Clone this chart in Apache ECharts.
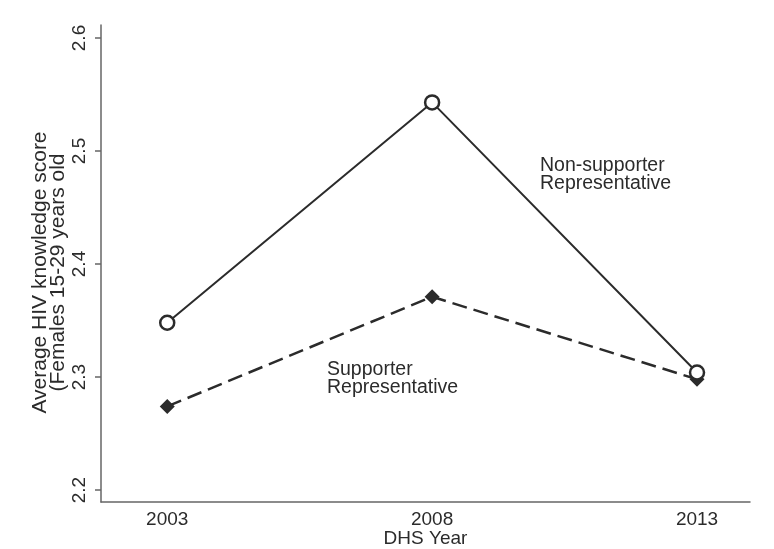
<!DOCTYPE html>
<html>
<head>
<meta charset="utf-8">
<script src="https://cdn.jsdelivr.net/npm/echarts@6/dist/echarts.min.js"></script>
<style>
  html, body { margin: 0; padding: 0; background: #fff; }
  #chart { width: 774px; height: 549px; }
</style>
</head>
<body>
<div id="chart"></div>
<script>
// DHS survey years and average HIV knowledge scores
const years = [2003, 2008, 2013]
const nonSupporter = [2.348, 2.543, 2.304]
const supporter = [2.274, 2.371, 2.298]
const yTicks = [2.2, 2.3, 2.4, 2.5, 2.6]

const textColor = '#2b2b2b'
const fontFamily = 'Liberation Sans, Arial, sans-serif'

const toPairs = (vals) => years.map((y, i) => [y, vals[i]])

const chart = echarts.init(document.getElementById('chart'))
chart.setOption({
  animation: false,
  backgroundColor: '#fff',
  textStyle: { fontFamily: fontFamily },
  grid: { left: 101, right: 24, top: 25, bottom: 47, outerBoundsMode: 'none' },
  xAxis: {
    type: 'value',
    min: 2001.75,
    max: 2014,
    name: 'DHS Year',
    nameLocation: 'middle',
    nameGap: 27,
    nameMoveOverlap: false,
    nameTextStyle: { color: textColor, fontSize: 19, fontFamily: fontFamily },
    axisLine: { show: true, lineStyle: { color: '#666', width: 1.5 } },
    axisTick: { show: false },
    splitLine: { show: false },
    axisLabel: {
      customValues: years,
      color: textColor,
      fontSize: 19,
      margin: 8,
      formatter: (v) => String(v)
    }
  },
  yAxis: {
    type: 'value',
    min: 2.1894,
    max: 2.6115,
    name: 'Average HIV knowledge score\n(Females 15-29 years old',
    nameLocation: 'middle',
    nameGap: 34,
    nameMoveOverlap: false,
    nameTextStyle: {
      color: textColor, fontSize: 21, lineHeight: 18, fontFamily: fontFamily,
      padding: [0, 18, 0, 0]
    },
    axisLine: { show: true, lineStyle: { color: '#666', width: 1.5 } },
    axisTick: { show: true, customValues: yTicks, length: 6, lineStyle: { color: '#666', width: 1.5 } },
    splitLine: { show: false },
    axisLabel: {
      customValues: yTicks,
      rotate: 90,
      color: textColor,
      fontSize: 19,
      margin: 12,
      formatter: (v) => v.toFixed(1)
    }
  },
  series: [
    {
      name: 'Non-supporter Representative',
      type: 'line',
      data: toPairs(nonSupporter),
      symbol: 'circle',
      symbolSize: 14,
      itemStyle: { color: '#fff', borderColor: '#2b2b2b', borderWidth: 2.5 },
      lineStyle: { color: '#2b2b2b', width: 2, type: 'solid' },
      z: 3
    },
    {
      name: 'Supporter Representative',
      type: 'line',
      data: toPairs(supporter),
      symbol: 'diamond',
      symbolSize: 15,
      itemStyle: { color: '#2b2b2b', borderWidth: 0 },
      lineStyle: { color: '#2b2b2b', width: 2.5, type: [15, 7] },
      z: 2
    }
  ],
  graphic: [
    {
      type: 'text',
      left: 540,
      top: 156,
      style: {
        text: 'Non-supporter\nRepresentative',
        fill: textColor,
        fontSize: 19.5,
        lineHeight: 18,
        fontFamily: fontFamily
      }
    },
    {
      type: 'text',
      left: 327,
      top: 360,
      style: {
        text: 'Supporter\nRepresentative',
        fill: textColor,
        fontSize: 19.5,
        lineHeight: 18,
        fontFamily: fontFamily
      }
    }
  ]
})
</script>
</body>
</html>
